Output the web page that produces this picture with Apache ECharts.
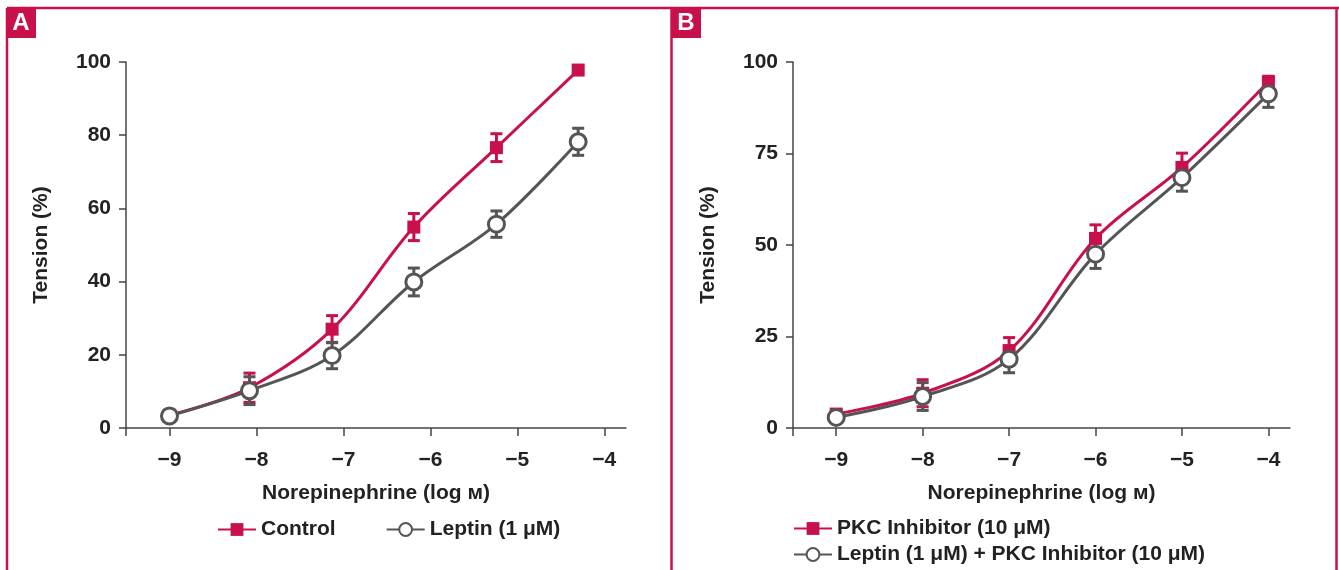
<!DOCTYPE html>
<html>
<head>
<meta charset="utf-8">
<title>Tension vs norepinephrine</title>
<script src="https://cdn.jsdelivr.net/npm/echarts@6/dist/echarts.min.js"></script>
<style>
  html, body { margin: 0; padding: 0; background: #fff; }
  #chart { width: 1339px; height: 570px; }
</style>
</head>
<body>
<div id="chart"></div>
<script>
// panel A: control vs leptin
const concA = [-9, -8.08, -7.13, -6.19, -5.24, -4.3];
const controlA = [3.5, 11, 27, 54.9, 76.6, 97.8];
const controlErrA = [1, 4, 3.7, 3.7, 3.8, 0];
const leptinA = [3.3, 10.2, 19.8, 39.9, 55.7, 78.2];
const leptinErrA = [1, 3.8, 3.6, 3.8, 3.6, 3.7];

// panel B: with PKC inhibitor
const concB = [-9, -8, -7, -6, -5, -4];
const pkcB = [3.8, 9.5, 21.1, 51.8, 71.2, 94.6];
const pkcErrB = [1, 3.7, 3.6, 3.7, 3.9, 1.5];
const leptinPkcB = [2.9, 8.6, 18.8, 47.5, 68.4, 91.3];
const leptinPkcErrB = [1, 3.8, 3.7, 3.9, 3.7, 3.7];

const xTicks = [-9, -8, -7, -6, -5, -4];
const yTicksA = [0, 20, 40, 60, 80, 100];
const yTicksB = [0, 25, 50, 75, 100];

const RED = '#c8104a';
const GRAY = '#555555';
const AXIS = '#444444';
const FONT = 'Liberation Sans, Arial, sans-serif';

let chart = echarts.init(document.getElementById('chart'));

function pairs(xs, ys) {
	return xs.map((x, i) => [x, ys[i]]);
}

function errData(xs, ys, es) {
	return xs.map((x, i) => [x, ys[i] - es[i], ys[i] + es[i]]);
}

function renderErr(params, api) {
	let x = api.value(0);
	let lo = api.coord([x, api.value(1)]);
	let hi = api.coord([x, api.value(2)]);
	if (Math.abs(lo[1] - hi[1]) < 1) return null;
	let w = 6;
	let style = { stroke: api.visual('color'), lineWidth: 3, fill: null };
	return {
		type: 'group',
		children: [
			{ type: 'line', shape: { x1: hi[0], y1: hi[1], x2: lo[0], y2: lo[1] }, style: style },
			{ type: 'line', shape: { x1: hi[0] - w, y1: hi[1], x2: hi[0] + w, y2: hi[1] }, style: style },
			{ type: 'line', shape: { x1: lo[0] - w, y1: lo[1], x2: lo[0] + w, y2: lo[1] }, style: style }
		]
	};
}

function minusFmt(v) {
	return v < 0 ? '\u2212' + Math.abs(v) : String(v);
}

const textBold = { fontSize: 21, fontWeight: 'bold', color: '#222', fontFamily: FONT };

function xAxis(idx) {
	return {
		gridIndex: idx,
		type: 'value',
		min: -9.5,
		max: -3.75,
		name: 'Norepinephrine (log \u043c)',
		nameLocation: 'middle',
		nameGap: 55,
		nameTextStyle: textBold,
		splitLine: { show: false },
		axisLine: { lineStyle: { color: AXIS, width: 1.5 } },
		axisTick: { customValues: [-9.5].concat(xTicks), length: 8, lineStyle: { color: AXIS, width: 1.5 } },
		axisLabel: Object.assign({ customValues: xTicks, formatter: minusFmt, margin: 22 }, textBold)
	};
}

function yAxis(idx, ticks) {
	return {
		gridIndex: idx,
		type: 'value',
		min: 0,
		max: 100,
		name: 'Tension (%)',
		nameLocation: 'middle',
		nameGap: 74,
		nameTextStyle: textBold,
		splitLine: { show: false },
		axisLine: { show: true, lineStyle: { color: AXIS, width: 1.5 } },
		axisTick: { show: true, customValues: ticks, length: 7, lineStyle: { color: AXIS, width: 1.5 } },
		axisLabel: Object.assign({ customValues: ticks, margin: 15 }, textBold)
	};
}

function lineSeries(name, idx, xs, ys, color, isSquare) {
	return {
		name: name,
		type: 'line',
		xAxisIndex: idx,
		yAxisIndex: idx,
		data: pairs(xs, ys),
		smooth: 0.35,
		symbol: isSquare ? 'rect' : 'circle',
		symbolSize: isSquare ? 13 : 16,
		showAllSymbol: true,
		z: 5,
		lineStyle: { color: color, width: 3 },
		itemStyle: isSquare
			? { color: color }
			: { color: '#fff', borderColor: color, borderWidth: 3 }
	};
}

function errSeries(idx, xs, ys, es, color, z) {
	return {
		type: 'custom',
		xAxisIndex: idx,
		yAxisIndex: idx,
		data: errData(xs, ys, es),
		renderItem: renderErr,
		itemStyle: { color: color },
		z: z,
		silent: true
	};
}

function legend(left, top, names, gap) {
	return {
		left: left, top: top,
		itemWidth: 38, itemHeight: 16, itemGap: gap,
		textStyle: textBold,
		data: names
	};
}

chart.setOption({
	animation: false,
	backgroundColor: '#fff',
	grid: [
		{ left: 126, top: 62, width: 500, height: 366 },
		{ left: 793, top: 62, width: 497, height: 366 }
	],
	xAxis: [xAxis(0), xAxis(1)],
	yAxis: [yAxis(0, yTicksA), yAxis(1, yTicksB)],
	legend: [
		legend(212, 514, ['Control', 'Leptin (1 \u03bcM)'], 50),
		legend(788, 513, ['PKC Inhibitor (10 \u03bcM)'], 10),
		legend(788, 539, ['Leptin (1 \u03bcM) + PKC Inhibitor (10 \u03bcM)'], 10)
	],
	graphic: [
		{ type: 'line', shape: { x1: 7, y1: 8, x2: 1339, y2: 8 }, style: { stroke: RED, lineWidth: 2.5 } },
		{ type: 'line', shape: { x1: 7, y1: 8, x2: 7, y2: 570 }, style: { stroke: RED, lineWidth: 2.5 } },
		{ type: 'line', shape: { x1: 671.5, y1: 8, x2: 671.5, y2: 570 }, style: { stroke: RED, lineWidth: 2.5 } },
		{ type: 'line', shape: { x1: 1336.5, y1: 8, x2: 1336.5, y2: 570 }, style: { stroke: RED, lineWidth: 2.5 } },
		{ type: 'rect', shape: { x: 6, y: 8, width: 30, height: 30 }, style: { fill: RED } },
		{ type: 'rect', shape: { x: 671, y: 8, width: 30, height: 30 }, style: { fill: RED } },
		{ type: 'text', x: 21, y: 23, style: { text: 'A', fill: '#fff', font: 'bold 24px ' + FONT, align: 'center', verticalAlign: 'middle' } },
		{ type: 'text', x: 686, y: 23, style: { text: 'B', fill: '#fff', font: 'bold 24px ' + FONT, align: 'center', verticalAlign: 'middle' } }
	],
	series: [
		errSeries(0, concA, controlA, controlErrA, RED, 2),
		lineSeries('Control', 0, concA, controlA, RED, true),
		errSeries(0, concA, leptinA, leptinErrA, GRAY, 3),
		lineSeries('Leptin (1 \u03bcM)', 0, concA, leptinA, GRAY, false),
		errSeries(1, concB, pkcB, pkcErrB, RED, 2),
		lineSeries('PKC Inhibitor (10 \u03bcM)', 1, concB, pkcB, RED, true),
		errSeries(1, concB, leptinPkcB, leptinPkcErrB, GRAY, 3),
		lineSeries('Leptin (1 \u03bcM) + PKC Inhibitor (10 \u03bcM)', 1, concB, leptinPkcB, GRAY, false)
	]
});
</script>
</body>
</html>
